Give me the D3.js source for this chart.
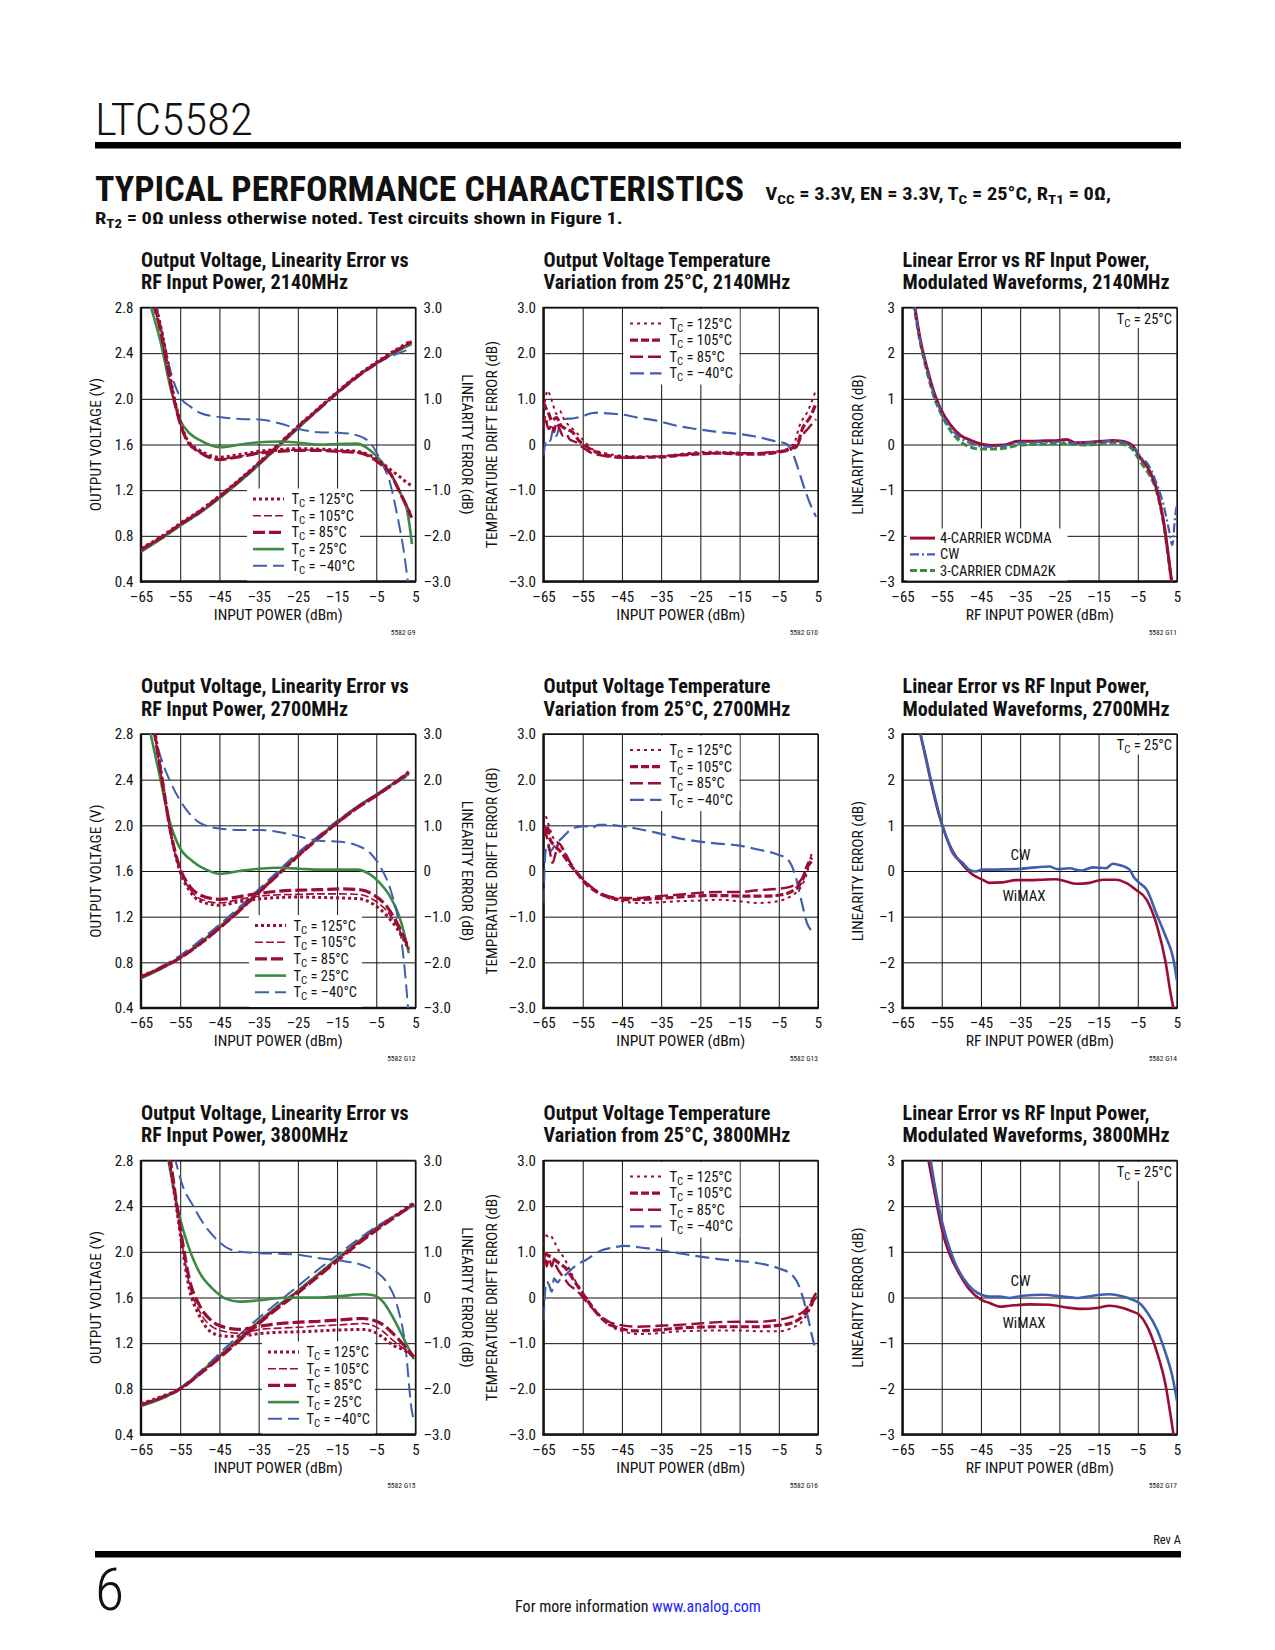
<!DOCTYPE html>
<html>
<head>
<meta charset="utf-8">
<script src="https://cdn.jsdelivr.net/npm/d3@7"></script>
<style>
body { margin: 0; background: #fff; }
text { font-family: "Liberation Sans Narrow", "Arial Narrow", "Roboto Condensed", "Liberation Sans", sans-serif; fill: #111; }
</style>
</head>
<body>
<svg id="page" width="1275" height="1650"></svg>
<script>

// tick values and tick labels
var xTicks = [-65, -55, -45, -35, -25, -15, -5, 5];
var xLabels = ["\u201365", "\u201355", "\u201345", "\u201335", "\u201325", "\u201315", "\u20135", "5"];
var voutTicks = [0.4, 0.8, 1.2, 1.6, 2.0, 2.4, 2.8];
var voutLabels = ["0.4", "0.8", "1.2", "1.6", "2.0", "2.4", "2.8"];
var errTicks = [-3, -2, -1, 0, 1, 2, 3];
var errLabels = ["\u20133.0", "\u20132.0", "\u20131.0", "0", "1.0", "2.0", "3.0"];
var modLabels = ["\u20133", "\u20132", "\u20131", "0", "1", "2", "3"];

// ---- 2140MHz output voltage (V) and linearity error (dB) ----
var g9Vout125 = [[-65,0.69],[-60,0.79],[-55,0.91],[-50,1.02],[-45,1.15],[-40,1.29],[-35,1.44],[-30,1.6],[-25,1.76],[-20,1.91],[-15,2.06],[-10,2.2],[-5,2.32],[0,2.43],[4,2.51]];
var g9Vout105 = [[-65,0.68],[-60,0.78],[-55,0.9],[-50,1.01],[-45,1.14],[-40,1.28],[-35,1.43],[-30,1.59],[-25,1.75],[-20,1.9],[-15,2.05],[-10,2.19],[-5,2.31],[0,2.42],[4,2.5]];
var g9Vout85 = [[-65,0.68],[-60,0.78],[-55,0.9],[-50,1.01],[-45,1.14],[-40,1.28],[-35,1.43],[-30,1.59],[-25,1.75],[-20,1.9],[-15,2.05],[-10,2.19],[-5,2.31],[0,2.42],[4,2.5]];
var g9Vout25 = [[-65,0.66],[-60,0.77],[-55,0.89],[-50,1.0],[-45,1.13],[-40,1.27],[-35,1.42],[-30,1.58],[-25,1.74],[-20,1.9],[-15,2.05],[-10,2.19],[-5,2.31],[0,2.41],[4,2.48]];
var g9VoutM40 = [[-65,0.67],[-60,0.78],[-55,0.9],[-50,1.02],[-45,1.15],[-40,1.29],[-35,1.44],[-30,1.6],[-25,1.76],[-20,1.91],[-15,2.06],[-10,2.2],[-5,2.31],[0,2.39],[4,2.44]];
var g9Err125 = [[-61.5,3.1],[-60,2.6],[-58.4,1.9],[-56.7,1.1],[-55,0.5],[-53.3,0.12],[-50,-0.13],[-47,-0.25],[-45,-0.28],[-40,-0.22],[-35,-0.15],[-30,-0.11],[-25,-0.09],[-20,-0.1],[-15,-0.12],[-10,-0.15],[-6.5,-0.24],[-4,-0.37],[-1.4,-0.55],[1.2,-0.72],[2.9,-0.84],[4,-0.9]];
var g9Err105 = [[-62,3.1],[-60,2.45],[-58.4,1.72],[-56.7,1.0],[-55,0.44],[-53.3,0.08],[-50,-0.17],[-47,-0.29],[-45,-0.32],[-40,-0.26],[-35,-0.18],[-30,-0.14],[-25,-0.12],[-20,-0.12],[-15,-0.14],[-10,-0.17],[-6.5,-0.26],[-4,-0.4],[-1.4,-0.62],[1.2,-1.05],[2.9,-1.35],[4,-1.55]];
var g9Err85 = [[-62,3.1],[-60,2.5],[-58.4,1.78],[-56.7,1.04],[-55,0.46],[-53.3,0.09],[-50,-0.17],[-47,-0.3],[-45,-0.33],[-40,-0.27],[-35,-0.19],[-30,-0.15],[-25,-0.13],[-20,-0.13],[-15,-0.15],[-10,-0.17],[-6.5,-0.27],[-4,-0.42],[-1.4,-0.64],[1.2,-1.08],[2.9,-1.38],[4,-1.6]];
var g9Err25 = [[-62.8,3.1],[-60.1,2.28],[-57.5,1.25],[-55,0.53],[-52.4,0.23],[-49.9,0.09],[-44.9,-0.06],[-39.7,0.0],[-34.8,0.05],[-29.5,0.065],[-24.8,0.04],[-19.7,0.0],[-14.8,0.01],[-9.9,0.02],[-6.5,-0.13],[-3.9,-0.35],[-1.4,-0.64],[1.2,-1.08],[2.9,-1.45],[4.1,-2.18]];
var g9ErrM40 = [[-61.2,3.1],[-59.2,2.28],[-57.5,1.62],[-55,1.04],[-52.4,0.83],[-49.9,0.69],[-44.9,0.6],[-39.7,0.56],[-34.8,0.55],[-29.5,0.46],[-24.8,0.34],[-19.7,0.27],[-14.8,0.26],[-9.9,0.2],[-6.5,0.03],[-3.9,-0.35],[-1.4,-0.87],[0.3,-1.53],[2.0,-2.33],[3.2,-3.1]];

// ---- 2700MHz ----
var g12Vout125 = [[-65,0.68],[-60,0.75],[-55,0.84],[-50,0.96],[-45,1.1],[-40,1.25],[-35,1.41],[-30,1.57],[-25,1.73],[-20,1.88],[-15,2.02],[-10,2.15],[-5,2.26],[0,2.38],[3.3,2.46]];
var g12Vout105 = [[-65,0.68],[-60,0.75],[-55,0.84],[-50,0.96],[-45,1.1],[-40,1.25],[-35,1.41],[-30,1.57],[-25,1.73],[-20,1.88],[-15,2.02],[-10,2.15],[-5,2.26],[0,2.38],[3.3,2.47]];
var g12Vout85 = [[-65,0.67],[-60,0.75],[-55,0.84],[-50,0.96],[-45,1.1],[-40,1.25],[-35,1.41],[-30,1.57],[-25,1.73],[-20,1.88],[-15,2.02],[-10,2.15],[-5,2.26],[0,2.38],[3.3,2.47]];
var g12Vout25 = [[-65,0.66],[-60,0.74],[-55,0.84],[-50,0.97],[-45,1.11],[-40,1.26],[-35,1.42],[-30,1.58],[-25,1.74],[-20,1.89],[-15,2.03],[-10,2.16],[-5,2.27],[0,2.38],[3.3,2.45]];
var g12VoutM40 = [[-65,0.67],[-60,0.76],[-55,0.86],[-50,0.99],[-45,1.13],[-40,1.28],[-35,1.44],[-30,1.6],[-25,1.76],[-20,1.9],[-15,2.04],[-10,2.16],[-5,2.27],[0,2.37],[3.3,2.44]];
var g12Err125 = [[-61.5,3.1],[-59.5,1.95],[-57.4,0.82],[-55.3,0.06],[-52.7,-0.42],[-50.1,-0.65],[-45,-0.75],[-39.9,-0.67],[-34.7,-0.61],[-29.6,-0.58],[-24.5,-0.57],[-19.4,-0.58],[-14.2,-0.59],[-9.1,-0.61],[-5.7,-0.73],[-2.3,-0.98],[0.3,-1.26],[3.3,-1.72]];
var g12Err105 = [[-61.7,3.1],[-59.5,1.9],[-57.4,0.8],[-55.3,0.08],[-52.7,-0.38],[-50.1,-0.6],[-45,-0.7],[-39.9,-0.62],[-34.7,-0.55],[-29.6,-0.52],[-24.5,-0.51],[-19.4,-0.5],[-14.2,-0.5],[-9.1,-0.52],[-5.7,-0.63],[-2.3,-0.88],[0.3,-1.2],[3.3,-1.72]];
var g12Err85 = [[-61.7,3.1],[-59.5,1.93],[-57.4,0.84],[-55.3,0.12],[-52.7,-0.32],[-50.1,-0.52],[-45,-0.62],[-39.9,-0.56],[-34.7,-0.49],[-29.6,-0.44],[-24.5,-0.42],[-19.4,-0.41],[-14.2,-0.39],[-9.1,-0.41],[-5.7,-0.52],[-2.3,-0.78],[0.3,-1.14],[3.3,-1.7]];
var g12Err25 = [[-62.8,3.1],[-60.4,2.15],[-57.8,1.12],[-55.3,0.54],[-51.8,0.21],[-48.4,0.03],[-45,-0.06],[-39.9,0.0],[-34.7,0.05],[-29.6,0.07],[-24.5,0.05],[-19.4,0.03],[-14.2,0.03],[-10,0.03],[-6.5,-0.08],[-4,-0.27],[-1.4,-0.57],[1.2,-1.08],[3.3,-1.8]];
var g12ErrM40 = [[-62,3.1],[-59.5,2.37],[-57,1.86],[-53.5,1.35],[-50.1,1.06],[-45,0.93],[-39.9,0.9],[-34.7,0.9],[-29.6,0.85],[-24.5,0.75],[-19.4,0.66],[-14.2,0.64],[-10,0.56],[-6.5,0.39],[-4,0.1],[-1.4,-0.4],[0.7,-1.13],[2,-1.94],[3.2,-3.1]];

// ---- 3800MHz ----
var g15Vout125 = [[-65,0.67],[-60,0.73],[-55,0.8],[-50,0.93],[-45,1.08],[-40,1.23],[-35,1.38],[-30,1.52],[-25,1.65],[-20,1.79],[-15,1.93],[-10,2.07],[-5,2.2],[0,2.32],[4.6,2.43]];
var g15Vout105 = [[-65,0.66],[-60,0.72],[-55,0.8],[-50,0.93],[-45,1.08],[-40,1.23],[-35,1.38],[-30,1.52],[-25,1.65],[-20,1.79],[-15,1.93],[-10,2.07],[-5,2.2],[0,2.32],[4.6,2.42]];
var g15Vout85 = [[-65,0.66],[-60,0.72],[-55,0.8],[-50,0.93],[-45,1.07],[-40,1.22],[-35,1.37],[-30,1.51],[-25,1.64],[-20,1.78],[-15,1.92],[-10,2.06],[-5,2.19],[0,2.31],[4.6,2.42]];
var g15Vout25 = [[-65,0.65],[-60,0.71],[-55,0.8],[-50,0.94],[-45,1.09],[-40,1.24],[-35,1.39],[-30,1.53],[-25,1.66],[-20,1.8],[-15,1.94],[-10,2.08],[-5,2.21],[0,2.32],[4.6,2.41]];
var g15VoutM40 = [[-65,0.65],[-60,0.72],[-55,0.81],[-50,0.95],[-45,1.11],[-40,1.27],[-35,1.42],[-30,1.56],[-25,1.7],[-20,1.84],[-15,1.97],[-10,2.1],[-5,2.22],[0,2.32],[4.6,2.4]];
var g15Err125 = [[-58,3.1],[-56.1,2.05],[-54.4,1.05],[-52.7,0.2],[-50.1,-0.4],[-46.7,-0.78],[-43.3,-0.85],[-39.9,-0.85],[-34.7,-0.79],[-29.6,-0.76],[-24.5,-0.75],[-19.4,-0.73],[-14.2,-0.71],[-8.3,-0.7],[-5.7,-0.75],[-3.2,-0.88],[-0.6,-1.05],[2,-1.15],[4.6,-1.3]];
var g15Err105 = [[-57.8,3.1],[-56.1,2.1],[-54.4,1.12],[-52.7,0.3],[-50.1,-0.3],[-46.7,-0.65],[-43.3,-0.75],[-39.9,-0.78],[-34.7,-0.7],[-29.6,-0.67],[-24.5,-0.65],[-19.4,-0.62],[-14.2,-0.6],[-8.3,-0.57],[-5.7,-0.62],[-3.2,-0.75],[-0.6,-0.95],[2,-1.12],[4.6,-1.32]];
var g15Err85 = [[-57.6,3.1],[-56.1,2.16],[-54.4,1.21],[-52.7,0.41],[-50.1,-0.17],[-46.7,-0.53],[-43.3,-0.66],[-39.9,-0.7],[-34.7,-0.63],[-29.6,-0.57],[-24.5,-0.54],[-19.4,-0.52],[-14.2,-0.49],[-8.3,-0.46],[-5.7,-0.5],[-3.2,-0.6],[-0.6,-0.8],[2,-1.04],[4.6,-1.3]];
var g15Err25 = [[-58.2,3.1],[-56.5,2.3],[-54.8,1.65],[-52.7,1.07],[-50.1,0.55],[-46.7,0.19],[-43.3,-0.03],[-39.9,-0.09],[-34.7,-0.06],[-29.6,-0.01],[-24.5,0.0],[-19.4,0.0],[-14.2,0.03],[-8.3,0.07],[-5.7,0.05],[-3.2,-0.1],[-0.6,-0.46],[2,-0.9],[4.6,-1.35]];
var g15ErrM40 = [[-56.5,3.1],[-54.4,2.45],[-51.8,2.02],[-49.3,1.65],[-46.7,1.36],[-43.3,1.1],[-39.9,1.0],[-34.7,0.97],[-29.6,0.96],[-24.5,0.93],[-19.4,0.86],[-14.2,0.81],[-8.3,0.7],[-4.8,0.55],[-2.3,0.33],[0.3,-0.17],[2.4,-1.05],[4.1,-2.5],[4.4,-2.62]];

// ---- temperature drift from 25C (dB) ----
var g10T125 = [[-65,0.78],[-64.5,1.0],[-64,1.18],[-63.3,1.07],[-62.5,0.85],[-61.7,0.67],[-60.9,0.74],[-59.6,0.52],[-58.4,0.41],[-56.7,0.27],[-55.1,0.12],[-52.6,-0.1],[-50.1,-0.17],[-46.8,-0.23],[-41,-0.26],[-36.1,-0.26],[-31.1,-0.22],[-26.2,-0.17],[-21.2,-0.16],[-16.2,-0.17],[-11.3,-0.19],[-6.3,-0.16],[-3,-0.1],[-1,0.05],[0.3,0.41],[2.5,0.75],[4.5,1.2]];
var g10T105 = [[-65,0.92],[-64.3,0.78],[-63.6,0.66],[-62.9,0.52],[-61.7,0.59],[-60.5,0.41],[-59.2,0.34],[-57.6,0.27],[-55.9,0.08],[-54.3,-0.03],[-51.8,-0.16],[-48.5,-0.24],[-44.3,-0.28],[-39.4,-0.28],[-34.4,-0.27],[-29.5,-0.23],[-24.5,-0.2],[-19.5,-0.19],[-14.6,-0.21],[-9.6,-0.21],[-4.7,-0.16],[-2.2,-0.11],[-0.1,0.05],[1,0.34],[3,0.6],[4.5,0.9]];
var g10T85 = [[-65,0.34],[-64.5,0.63],[-64,0.4],[-63.5,0.34],[-62.9,0.45],[-62.3,0.27],[-61.7,0.48],[-60.9,0.34],[-60,0.19],[-59.2,0.23],[-58.4,0.12],[-56.7,0.05],[-55.1,-0.06],[-52.6,-0.19],[-50.1,-0.24],[-46.8,-0.28],[-42.7,-0.29],[-37.7,-0.27],[-31.9,-0.24],[-26.2,-0.2],[-21.2,-0.19],[-16.2,-0.19],[-11.3,-0.19],[-6.3,-0.16],[-3,-0.13],[-0.5,-0.06],[0.7,0.16],[2.5,0.35],[4.5,0.55]];
var g10TM40 = [[-65,-0.25],[-64.5,0.05],[-64,0.12],[-63.3,0.08],[-62.5,0.34],[-61.7,0.19],[-60.9,0.41],[-59.2,0.56],[-57.6,0.57],[-55.9,0.6],[-54.3,0.64],[-52.6,0.69],[-51,0.7],[-48.5,0.68],[-45.2,0.66],[-41,0.59],[-36,0.52],[-31.1,0.41],[-26.1,0.34],[-21.2,0.28],[-16.2,0.24],[-11.3,0.18],[-6.3,0.08],[-3,0.01],[-1.4,-0.2],[0,-0.55],[1.5,-0.95],[3,-1.3],[4.5,-1.58]];

var g13T125 = [[-64.4,1.2],[-63.7,1.02],[-62.7,0.76],[-61.2,0.61],[-59.5,0.39],[-57.8,0.1],[-55.3,-0.15],[-51.9,-0.41],[-48.5,-0.59],[-45.1,-0.66],[-40.8,-0.7],[-35.8,-0.69],[-30.7,-0.66],[-25.6,-0.65],[-20.5,-0.63],[-15.4,-0.66],[-10.3,-0.7],[-5.3,-0.66],[-1.9,-0.55],[0.7,-0.34],[2.2,-0.04],[3.4,0.4]];
var g13T105 = [[-64.7,0.76],[-64.1,0.98],[-63.3,0.69],[-62,0.54],[-60.3,0.39],[-58.6,0.18],[-56.5,-0.04],[-54.4,-0.26],[-51,-0.48],[-47.6,-0.59],[-44.2,-0.63],[-39.2,-0.62],[-34.1,-0.59],[-29,-0.56],[-23.9,-0.54],[-18.8,-0.54],[-13.7,-0.55],[-8.6,-0.55],[-4.4,-0.52],[-1,-0.41],[1.1,-0.19],[2.2,0.1],[3.4,0.3]];
var g13T85 = [[-64.7,0.98],[-64.2,0.76],[-63.6,0.54],[-62.7,0.18],[-61.9,0.39],[-61.2,0.61],[-59.9,0.47],[-58.6,0.25],[-57,0.03],[-54.8,-0.19],[-51.9,-0.41],[-48.5,-0.55],[-45.1,-0.59],[-40.8,-0.59],[-35.8,-0.55],[-30.7,-0.52],[-25.6,-0.48],[-20.5,-0.46],[-15.4,-0.46],[-10.3,-0.42],[-5.3,-0.39],[-1.9,-0.34],[0.7,-0.19],[2,0.03],[3.4,0.2]];
var g13TM40 = [[-65,-0.7],[-64.6,0.32],[-64.1,0.58],[-63.3,0.43],[-62,0.58],[-60.3,0.72],[-58.6,0.87],[-56.5,0.96],[-54.4,0.98],[-52.7,0.94],[-51,1.01],[-48.5,1.01],[-45.1,0.98],[-40.8,0.92],[-35.8,0.83],[-30.7,0.72],[-25.6,0.65],[-20.5,0.6],[-15.4,0.56],[-10.3,0.47],[-5.3,0.36],[-2.7,0.25],[-1,-0.04],[0.7,-0.63],[2.2,-1.14],[3.4,-1.32]];

var g16T125 = [[-65,1.15],[-64.6,1.41],[-64,1.34],[-63.4,1.37],[-62.3,1.23],[-61,1.01],[-59.7,0.86],[-58.5,0.64],[-56.8,0.35],[-55.1,0.13],[-53.4,-0.09],[-50.8,-0.38],[-48.3,-0.6],[-44.9,-0.74],[-40.7,-0.8],[-35.6,-0.78],[-30.5,-0.74],[-25.4,-0.73],[-20.3,-0.72],[-15.3,-0.72],[-10.2,-0.74],[-5.1,-0.74],[-1.7,-0.67],[1.3,-0.49],[2.4,-0.34],[4.5,0.0]];
var g16T105 = [[-65,0.97],[-64,0.93],[-62.7,0.86],[-61,0.75],[-59.3,0.64],[-57.6,0.42],[-55.9,0.2],[-54.2,-0.01],[-51.7,-0.31],[-49.2,-0.53],[-45.8,-0.67],[-41.5,-0.73],[-35.6,-0.71],[-30.5,-0.67],[-25.4,-0.65],[-20.3,-0.64],[-15.3,-0.64],[-10.2,-0.64],[-5.1,-0.61],[-1.7,-0.56],[1.3,-0.39],[2.4,-0.27],[4.5,0.05]];
var g16T85 = [[-65,0.64],[-64.6,0.93],[-64.2,0.68],[-63.6,0.86],[-62.9,0.68],[-62.3,0.82],[-61.7,0.68],[-61,0.57],[-59.7,0.42],[-58.5,0.28],[-56.8,0.17],[-55.1,0.02],[-53.4,-0.16],[-50.8,-0.38],[-48.3,-0.53],[-44.9,-0.61],[-40.7,-0.64],[-35.6,-0.62],[-30.5,-0.6],[-25.4,-0.57],[-20.3,-0.54],[-15.3,-0.53],[-10.2,-0.53],[-5.1,-0.49],[-1.7,-0.42],[1.3,-0.31],[2.4,-0.2],[4.5,0.1]];
var g16TM40 = [[-65,-0.51],[-64.6,0.13],[-64.2,0.35],[-63.6,0.28],[-62.9,0.13],[-62.3,0.42],[-61.4,0.33],[-60.6,0.42],[-59.3,0.5],[-57.6,0.64],[-55.9,0.75],[-54.2,0.82],[-52.5,0.92],[-50,1.04],[-47.5,1.09],[-44.1,1.13],[-40.7,1.1],[-35.6,1.04],[-30.5,0.97],[-25.4,0.9],[-20.3,0.84],[-15.3,0.8],[-10.2,0.75],[-5.1,0.64],[-1.7,0.5],[0.4,0.2],[2.1,-0.31],[3.5,-0.85],[4.5,-1.18]];

// ---- linearity error, modulated waveforms (dB) ----
var g11Wcdma = [[-62,3.1],[-60.5,2.31],[-58.7,1.66],[-57,1.15],[-55.3,0.78],[-52.7,0.42],[-50.2,0.2],[-47.6,0.09],[-45,0.01],[-42.4,-0.02],[-39,-0.01],[-35.6,0.07],[-32.1,0.07],[-28.7,0.08],[-25.3,0.09],[-23.1,0.11],[-21,0.04],[-17.5,0.05],[-14.1,0.07],[-11.5,0.09],[-9,0.07],[-6.4,-0.02],[-4.2,-0.31],[-2.5,-0.5],[0.2,-1.1],[1.8,-1.8],[2.9,-2.5],[3.7,-3.05]];
var g11Cw = [[-62,3.1],[-60.5,2.28],[-58.7,1.62],[-57,1.1],[-55.3,0.74],[-52.7,0.36],[-50.2,0.14],[-47.6,0.03],[-45,-0.04],[-42.4,-0.05],[-39,-0.03],[-35.6,0.04],[-32.1,0.05],[-28.7,0.05],[-25.3,0.06],[-21,0.03],[-17.5,0.04],[-14.1,0.06],[-11.5,0.08],[-9,0.05],[-6.4,-0.04],[-4.2,-0.28],[-2.5,-0.42],[0,-0.9],[1.5,-1.3],[2.9,-1.85],[3.8,-2.2],[4.5,-1.6],[5,-1.3]];
var g11Cdma = [[-62.2,3.1],[-60.5,2.25],[-58.7,1.58],[-57,1.05],[-55.3,0.7],[-52.7,0.3],[-50.2,0.06],[-47.6,-0.06],[-45,-0.1],[-42.4,-0.1],[-39,-0.08],[-35.6,-0.02],[-32.1,0.0],[-28.7,0.01],[-25.3,0.02],[-21,0.0],[-17.5,-0.01],[-14.1,0.02],[-11.5,0.04],[-9,0.01],[-6.4,-0.1],[-4.2,-0.4],[-2.5,-0.6],[0.2,-1.15],[1.8,-1.85],[2.9,-2.55],[3.7,-3.05]];

var g14Wimax = [[-60.7,3.1],[-59,2.44],[-57.3,1.78],[-55.6,1.2],[-53.9,0.76],[-52.2,0.43],[-49.7,0.14],[-47.1,-0.08],[-44.6,-0.19],[-42.9,-0.26],[-39.5,-0.25],[-36.1,-0.2],[-32.7,-0.2],[-29.3,-0.19],[-25.9,-0.18],[-23.3,-0.23],[-20.7,-0.28],[-17.3,-0.26],[-13.9,-0.19],[-10.5,-0.19],[-8,-0.26],[-5.5,-0.41],[-2.8,-0.62],[-0.1,-1.2],[2.1,-2.0],[3.4,-2.7],[4.2,-3.05]];
var g14Cw = [[-60.7,3.1],[-59,2.48],[-57.3,1.82],[-55.6,1.23],[-53.9,0.76],[-52.2,0.39],[-49.7,0.18],[-48,0.03],[-46.3,-0.01],[-44.6,0.03],[-41.2,0.03],[-36.1,0.04],[-31,0.08],[-27.6,0.1],[-25.4,0.04],[-22.4,0.06],[-19.5,0.01],[-16.5,0.08],[-13.1,0.06],[-11.4,0.16],[-9.3,0.12],[-7.1,0.03],[-5.9,-0.15],[-4.6,-0.26],[-2.8,-0.4],[-0.1,-0.97],[2.1,-1.43],[4,-1.9],[5,-2.4]];

var g17Wimax = [[-58.6,3.1],[-57.2,2.47],[-55.9,1.88],[-54.6,1.37],[-52.9,0.93],[-50.4,0.5],[-47.9,0.17],[-44.9,-0.05],[-42.8,-0.12],[-40.2,-0.2],[-37.7,-0.18],[-32.6,-0.15],[-27.5,-0.16],[-23.2,-0.22],[-19,-0.25],[-15.6,-0.23],[-12.2,-0.18],[-8.8,-0.23],[-6.3,-0.31],[-4.6,-0.38],[-2.8,-0.6],[-0.1,-1.2],[2.1,-1.92],[3.4,-2.6],[4.2,-3.05]];
var g17Cw = [[-58,3.1],[-56.8,2.47],[-55.5,1.88],[-53.8,1.3],[-52.1,0.86],[-49.5,0.42],[-47,0.17],[-44.9,0.06],[-42.8,0.02],[-40.2,0.02],[-37.7,-0.01],[-34.3,0.04],[-29.2,0.06],[-24.1,0.02],[-20.7,-0.01],[-16.4,0.04],[-12.2,0.07],[-8.8,0.02],[-6.3,-0.05],[-4.6,-0.12],[-2.8,-0.3],[-0.1,-0.7],[2.1,-1.22],[3.7,-1.68],[5,-2.26]];


var RED = "#9b0d32", GREEN = "#3b8b45", BLUE = "#3f5fae";
var PW = 274.5, PH = 274;
var colX = [141, 543.5, 902.5];
var rowY = [307.5, 734, 1160.5];
var TICK_FS = 15, AXIS_FS = 15.5, LEG_FS = 14.5;

var styles = {
	v125: {c: RED, w: 3, d: "3,3"},
	v105: {c: RED, w: 1.6, d: "8,3"},
	v85: {c: RED, w: 3.2, d: "12,4"},
	v25: {c: GREEN, w: 2.6, d: null},
	vM40: {c: BLUE, w: 2, d: "14,6"},
	d125: {c: RED, w: 2, d: "3,4"},
	d105: {c: RED, w: 3.2, d: "8,3"},
	d85: {c: RED, w: 2.4, d: "13,5"},
	dM40: {c: BLUE, w: 2.2, d: "14,6"},
	wcdma: {c: RED, w: 3, d: null},
	cw1: {c: BLUE, w: 2.2, d: "9,3,2,3"},
	cdma: {c: GREEN, w: 3, d: "7,3"},
	cw: {c: BLUE, w: 2.6, d: null},
	wimax: {c: RED, w: 2.6, d: null}
};

var svg = d3.select("#page");
svg.append("rect").attr("width", 1275).attr("height", 1650).attr("fill", "#fff");

var titleScale = null;

function styleLine(sel, s) {
	sel.attr("fill", "none")
		.attr("stroke", s.c)
		.attr("stroke-width", s.w)
		.attr("stroke-dasharray", s.d);
}

// "T" + subscript "C" + rest
function tcText(sel, rest, size) {
	sel.append("tspan").text("T");
	sel.append("tspan").attr("dy", 3).attr("font-size", size * 0.75).text("C");
	sel.append("tspan").attr("dy", -3).text(rest);
}

function drawPanel(p) {

	var left = colX[p.col], top = rowY[p.row];
	var g = svg.append("g").attr("transform", "translate(" + left + "," + top + ")");

	var x = d3.scaleLinear().domain([-65, 5]).range([0, PW]);
	var yErr = d3.scaleLinear().domain([-3, 3]).range([PH, 0]);
	var yL = p.kind == "vout" ? d3.scaleLinear().domain([0.4, 2.8]).range([PH, 0]) : yErr;

	// title, two lines, squeezed to the condensed width of the original
	var tg = svg.append("g");
	p.title.forEach(function(t, i) {
		var tt = tg.append("text")
			.attr("x", left).attr("y", top - 41 + i * 22.5)
			.attr("font-size", 19.5).attr("font-weight", "bold")
			.text(t);
		if (titleScale == null) titleScale = 267.7 / tt.node().getComputedTextLength();
		tt.attr("textLength", tt.node().getComputedTextLength() * titleScale)
			.attr("lengthAdjust", "spacingAndGlyphs");
	});

	// grid through the axes
	var gx = g.append("g").attr("transform", "translate(0," + PH + ")")
		.call(d3.axisBottom(x).tickValues(xTicks).tickSize(-PH).tickPadding(9.5)
			.tickFormat(function(d, i) { return xLabels[i]; }));
	var yTickVals = p.kind == "vout" ? voutTicks : errTicks;
	var yTickLabs = p.kind == "vout" ? voutLabels : (p.kind == "drift" ? errLabels : modLabels);
	var gy = g.append("g")
		.call(d3.axisLeft(yL).tickValues(yTickVals).tickSize(-PW).tickPadding(7.5)
			.tickFormat(function(d, i) { return yTickLabs[i]; }));
	[gx, gy].forEach(function(a) {
		a.select(".domain").remove();
		a.selectAll(".tick line").attr("stroke", "#111").attr("stroke-width", 1);
		a.selectAll(".tick text").attr("font-size", TICK_FS).attr("font-family", null).attr("fill", "#111");
	});
	if (p.kind == "vout") {
		var gr = g.append("g").attr("transform", "translate(" + PW + ",0)")
			.call(d3.axisRight(yErr).tickValues(errTicks).tickSize(0).tickPadding(8)
				.tickFormat(function(d, i) { return errLabels[i]; }));
		gr.select(".domain").remove();
		gr.selectAll(".tick text").attr("font-size", TICK_FS).attr("font-family", null).attr("fill", "#111");
	}

	// frame: heavy left/bottom, light top/right
	g.append("line").attr("x1", 0).attr("x2", PW).attr("y1", 0).attr("y2", 0).attr("stroke", "#111").attr("stroke-width", 1.3);
	g.append("line").attr("x1", PW).attr("x2", PW).attr("y1", 0).attr("y2", PH).attr("stroke", "#111").attr("stroke-width", 1.3);
	g.append("line").attr("x1", 0).attr("x2", 0).attr("y1", -0.6).attr("y2", PH + 1).attr("stroke", "#111").attr("stroke-width", 2.4);
	g.append("line").attr("x1", -1).attr("x2", PW + 0.6).attr("y1", PH).attr("y2", PH).attr("stroke", "#111").attr("stroke-width", 2.4);

	// legend / note backgrounds cover the grid
	if (p.legend) {
		var L = p.legend;
		g.append("rect").attr("x", L.box[0]).attr("y", L.box[1])
			.attr("width", L.box[2] - L.box[0]).attr("height", L.box[3] - L.box[1]).attr("fill", "#fff");
	}
	if (p.kind == "mod") {
		g.append("rect").attr("x", PW - 68).attr("y", 1.5).attr("width", 66).attr("height", 19).attr("fill", "#fff");
		tcText(g.append("text").attr("x", PW - 5).attr("y", 16).attr("text-anchor", "end").attr("font-size", LEG_FS), " = 25\u00B0C", LEG_FS);
	}

	// curves
	var clipId = "clip" + p.fig;
	g.append("clipPath").attr("id", clipId).append("rect").attr("width", PW).attr("height", PH);
	var cg = g.append("g").attr("clip-path", "url(#" + clipId + ")");
	p.series.forEach(function(s) {
		var yy = s.axis == "right" ? yErr : yL;
		var line = d3.line().x(function(d) { return x(d[0]); }).y(function(d) { return yy(d[1]); }).curve(d3.curveMonotoneX);
		cg.append("path").datum(s.data).attr("d", line).call(styleLine, styles[s.st]);
	});

	// legend entries
	if (p.legend) {
		L.items.forEach(function(it, i) {
			var yy = L.y + i * L.dy;
			g.append("line").attr("x1", L.x).attr("x2", L.x + L.len).attr("y1", yy).attr("y2", yy).call(styleLine, styles[it.st]);
			var t = g.append("text").attr("x", L.x + L.len + L.gap).attr("y", yy + 5).attr("font-size", LEG_FS);
			if (it.tc) tcText(t, it.label, LEG_FS); else t.text(it.label);
		});
	}
	if (p.notes) {
		p.notes.forEach(function(n) {
			g.append("text").attr("x", n[0]).attr("y", n[1]).attr("text-anchor", "middle").attr("font-size", 15).text(n[2]);
		});
	}

	// axis titles
	g.append("text").attr("x", PW / 2).attr("y", PH + 38).attr("text-anchor", "middle").attr("font-size", AXIS_FS).text(p.xLabel);
	g.append("text").attr("transform", "translate(" + (-p.yOff) + "," + (PH / 2) + ") rotate(-90)")
		.attr("text-anchor", "middle").attr("font-size", AXIS_FS).text(p.yLabel);
	if (p.kind == "vout")
		g.append("text").attr("transform", "translate(" + (PW + 46) + "," + (PH / 2) + ") rotate(90)")
			.attr("text-anchor", "middle").attr("font-size", AXIS_FS).text("LINEARITY ERROR (dB)");
	g.append("text").attr("x", PW).attr("y", PH + 53).attr("text-anchor", "end").attr("font-size", 7.5).text("5582 " + p.fig);
}

function tempLegend(x, y, box, dy) {
	return {x: x, y: y, dy: dy, len: 31, gap: 7.5, box: box,
		items: [{st: "v125", tc: true, label: " = 125\u00B0C"}, {st: "v105", tc: true, label: " = 105\u00B0C"},
			{st: "v85", tc: true, label: " = 85\u00B0C"}, {st: "v25", tc: true, label: " = 25\u00B0C"},
			{st: "vM40", tc: true, label: " = \u201340\u00B0C"}]};
}
function driftLegend() {
	return {x: 86.5, y: 16, dy: 16.6, len: 31.5, gap: 8, box: [80, 1.5, 196, 77],
		items: [{st: "d125", tc: true, label: " = 125\u00B0C"}, {st: "d105", tc: true, label: " = 105\u00B0C"},
			{st: "d85", tc: true, label: " = 85\u00B0C"}, {st: "dM40", tc: true, label: " = \u201340\u00B0C"}]};
}

// ---- the nine panels ----
var voutPanels = [
	{row: 0, fig: "G9", mhz: "2140MHz", v: [g9Vout125, g9Vout105, g9Vout85, g9Vout25, g9VoutM40], e: [g9Err125, g9Err105, g9Err85, g9Err25, g9ErrM40], lx: 112},
	{row: 1, fig: "G12", mhz: "2700MHz", v: [g12Vout125, g12Vout105, g12Vout85, g12Vout25, g12VoutM40], e: [g12Err125, g12Err105, g12Err85, g12Err25, g12ErrM40], lx: 114},
	{row: 2, fig: "G15", mhz: "3800MHz", v: [g15Vout125, g15Vout105, g15Vout85, g15Vout25, g15VoutM40], e: [g15Err125, g15Err105, g15Err85, g15Err25, g15ErrM40], lx: 127}
];
voutPanels.forEach(function(d) {
	var keys = ["v125", "v105", "v85", "v25", "vM40"];
	var order = [3, 4, 1, 2, 0];
	var series = [];
	order.forEach(function(k) { series.push({data: d.v[k], axis: "left", st: keys[k]}); });
	order.forEach(function(k) { series.push({data: d.e[k], axis: "right", st: keys[k]}); });
	drawPanel({col: 0, row: d.row, kind: "vout", fig: d.fig,
		title: ["Output Voltage, Linearity Error vs", "RF Input Power, " + d.mhz],
		xLabel: "INPUT POWER (dBm)", yLabel: "OUTPUT VOLTAGE (V)", yOff: 40,
		series: series,
		legend: tempLegend(d.lx, 191.5, [d.lx - 6, 181, d.lx + 107, PH - 1], 16.7)});
});

var driftPanels = [
	{row: 0, fig: "G10", mhz: "2140MHz", t: [g10T125, g10T105, g10T85, g10TM40]},
	{row: 1, fig: "G13", mhz: "2700MHz", t: [g13T125, g13T105, g13T85, g13TM40]},
	{row: 2, fig: "G16", mhz: "3800MHz", t: [g16T125, g16T105, g16T85, g16TM40]}
];
driftPanels.forEach(function(d) {
	drawPanel({col: 1, row: d.row, kind: "drift", fig: d.fig,
		title: ["Output Voltage Temperature", "Variation from 25\u00B0C, " + d.mhz],
		xLabel: "INPUT POWER (dBm)", yLabel: "TEMPERATURE DRIFT ERROR (dB)", yOff: 47,
		series: [{data: d.t[3], st: "dM40"}, {data: d.t[1], st: "d105"}, {data: d.t[2], st: "d85"}, {data: d.t[0], st: "d125"}],
		legend: driftLegend()});
});

drawPanel({col: 2, row: 0, kind: "mod", fig: "G11",
	title: ["Linear Error vs RF Input Power,", "Modulated Waveforms, 2140MHz"],
	xLabel: "RF INPUT POWER (dBm)", yLabel: "LINEARITY ERROR (dB)", yOff: 39.5,
	series: [{data: g11Cdma, st: "cdma"}, {data: g11Wcdma, st: "wcdma"}, {data: g11Cw, st: "cw1"}],
	legend: {x: 7.5, y: 230.6, dy: 16.2, len: 25, gap: 5, box: [4, 221, 165, PH - 1],
		items: [{st: "wcdma", label: "4-CARRIER WCDMA"}, {st: "cw1", label: "CW"}, {st: "cdma", label: "3-CARRIER CDMA2K"}]}});

[{row: 1, fig: "G14", mhz: "2700MHz", cw: g14Cw, wm: g14Wimax}, {row: 2, fig: "G17", mhz: "3800MHz", cw: g17Cw, wm: g17Wimax}].forEach(function(d) {
	drawPanel({col: 2, row: d.row, kind: "mod", fig: d.fig,
		title: ["Linear Error vs RF Input Power,", "Modulated Waveforms, " + d.mhz],
		xLabel: "RF INPUT POWER (dBm)", yLabel: "LINEARITY ERROR (dB)", yOff: 39.5,
		series: [{data: d.wm, st: "wimax"}, {data: d.cw, st: "cw"}],
		notes: [[118, 125.5, "CW"], [121.5, 167.3, "WiMAX"]]});
});

// ---- page header ----
function fit(sel, w) {
	sel.attr("textLength", w).attr("lengthAdjust", "spacingAndGlyphs");
}
// squeeze/stretch a text with tspans to a given width
function fitGroup(sel, x, y, w) {
	var k = w / sel.node().getComputedTextLength();
	sel.attr("transform", "translate(" + x + "," + y + ") scale(" + k + ",1)");
}
svg.append("text").attr("x", 95).attr("y", 135).attr("font-size", 44)
	.attr("font-family", "Roboto, 'Liberation Sans', sans-serif").attr("font-weight", 300)
	.text("LTC5582").call(fit, 158);
svg.append("rect").attr("x", 95).attr("y", 142).attr("width", 1086).attr("height", 6.5).attr("fill", "#000");
svg.append("text").attr("x", 95).attr("y", 201).attr("font-size", 35)
	.attr("font-family", "'DejaVu Sans', sans-serif").attr("font-weight", "bold")
	.text("TYPICAL PERFORMANCE CHARACTERISTICS").call(fit, 649);

var cond = svg.append("text").attr("font-size", 17.5).attr("font-weight", "bold");
[["V", ""], ["CC", "s"], [" = 3.3V, EN = 3.3V, T", ""], ["C", "s"], [" = 25\u00B0C, R", ""], ["T1", "s"], [" = 0\u03A9,", ""]].forEach(function(p, i, arr) {
	var prevSub = i > 0 && arr[i - 1][1] == "s";
	var t = cond.append("tspan").text(p[0]);
	if (p[1] == "s") t.attr("dy", 4).attr("font-size", 13);
	else if (prevSub) t.attr("dy", -4);
});
fitGroup(cond, 765.5, 200, 345.5);
var cond2 = svg.append("text").attr("font-size", 17).attr("font-weight", "bold");
cond2.append("tspan").text("R");
cond2.append("tspan").attr("dy", 4).attr("font-size", 12.5).text("T2");
cond2.append("tspan").attr("dy", -4).text(" = 0\u03A9 unless otherwise noted. Test circuits shown in Figure 1.");
fitGroup(cond2, 95, 223.5, 528);

// ---- page footer ----
svg.append("text").attr("x", 1181).attr("y", 1544).attr("text-anchor", "end").attr("font-size", 12.5).text("Rev A");
svg.append("rect").attr("x", 95).attr("y", 1551).attr("width", 1086).attr("height", 6.5).attr("fill", "#000");
svg.append("text").attr("x", 95).attr("y", 1610).attr("font-size", 60)
	.attr("font-family", "Roboto, 'Liberation Sans', sans-serif").attr("font-weight", 300).text("6");
var foot = svg.append("text").attr("x", 638).attr("y", 1612).attr("text-anchor", "middle").attr("font-size", 16);
foot.append("tspan").text("For more information ");
foot.append("tspan").attr("fill", "#1f1fff").text("www.analog.com");

</script>
</body>
</html>
